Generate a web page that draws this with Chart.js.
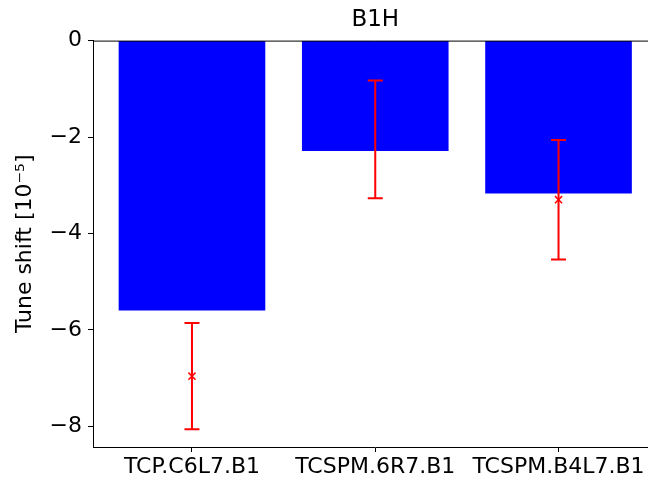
<!DOCTYPE html>
<html lang="en">
<head>
  <meta charset="UTF-8" />
  <title>B1H tune shift</title>
  <script src="https://cdn.jsdelivr.net/npm/chart.js"></script>
  <style>
    html, body { margin: 0; padding: 0; background: #fff; overflow: hidden; }
    #wrap { width: 664px; height: 481px; }
  </style>
</head>
<body>
  <div id="wrap"><canvas id="tuneChart" width="664" height="481"></canvas></div>
  <script>
    // collimators and tune shifts (units of 1e-5)
    const categories = ['TCP.C6L7.B1', 'TCSPM.6R7.B1', 'TCSPM.B4L7.B1'];
    const simulated = [-5.60, -2.29, -3.17];
    const measured = [-6.96, -2.05, -3.30];
    const measuredErr = [1.10, 1.22, 1.24];
    const yTicks = [0, -2, -4, -6, -8];

    const FONT = { family: 'DejaVu Sans', size: 22 };
    const minus = v => String(v).replace('-', '\u2212');

    // red whiskers with caps around the measured points, plus the top spine
    const errorBars = {
      id: 'errorBars',
      afterDatasetsDraw(chart) {
        const { ctx, scales: { x, y }, chartArea } = chart;
        ctx.save();
        ctx.strokeStyle = '#ff0000';
        ctx.lineWidth = 2;
        measured.forEach((m, i) => {
          const px = x.getPixelForValue(i);
          const top = y.getPixelForValue(m + measuredErr[i]);
          const bot = y.getPixelForValue(m - measuredErr[i]);
          ctx.beginPath();
          ctx.moveTo(px, top); ctx.lineTo(px, bot);
          ctx.moveTo(px - 7.5, top); ctx.lineTo(px + 7.5, top);
          ctx.moveTo(px - 7.5, bot); ctx.lineTo(px + 7.5, bot);
          ctx.stroke();
        });
        ctx.strokeStyle = '#000';
        ctx.lineWidth = 1;
        ctx.beginPath();
        ctx.moveTo(chartArea.left, chartArea.top + 0.5);
        ctx.lineTo(chartArea.right, chartArea.top + 0.5);
        ctx.stroke();
        ctx.restore();
      }
    };

    new Chart(document.getElementById('tuneChart'), {
      type: 'bar',
      data: {
        datasets: [{
          type: 'bar',
          data: simulated.map((v, i) => ({ x: i, y: v })),
          backgroundColor: '#0000ff',
          borderWidth: 0,
          barPercentage: 0.8,
          categoryPercentage: 1.0
        }, {
          type: 'scatter',
          data: measured.map((v, i) => ({ x: i, y: v })),
          pointStyle: 'crossRot',
          pointRadius: 5,
          borderColor: '#ff0000',
          borderWidth: 1.5
        }]
      },
      options: {
        responsive: false,
        animation: false,
        layout: { padding: 0 },
        plugins: {
          legend: { display: false },
          tooltip: { enabled: false },
          title: {
            display: true,
            text: 'B1H',
            color: '#000',
            font: { family: 'DejaVu Sans', size: 23, weight: 'normal' },
            fullSize: false,
            padding: { top: 6, bottom: 7 }
          }
        },
        scales: {
          x: {
            type: 'linear',
            min: -0.54,
            max: 2.54,
            offset: false,
            afterBuildTicks: s => { s.ticks = categories.map((c, i) => ({ value: i })); },
            afterFit: s => { s.height = 34; s.paddingLeft = 0; s.paddingRight = 0; },
            ticks: {
              color: '#000',
              font: FONT,
              padding: 2,
              maxRotation: 0,
              autoSkip: false,
              callback: v => categories[v]
            },
            grid: { offset: false, drawOnChartArea: false, drawTicks: true, tickLength: 5, color: '#000' },
            border: { color: '#000', width: 1 }
          },
          y: {
            min: -8.43,
            max: 0,
            afterBuildTicks: s => { s.ticks = yTicks.map(v => ({ value: v })); },
            afterFit: s => { s.width = 93; },
            ticks: {
              color: '#000',
              font: FONT,
              padding: 6,
              callback: v => minus(v)
            },
            grid: { drawOnChartArea: false, drawTicks: true, tickLength: 5, color: '#000' },
            border: { color: '#000', width: 1 },
            title: {
              display: true,
              text: 'Tune shift [10\u207b\u2075]',
              color: '#000',
              font: FONT,
              padding: { top: 12, bottom: 0 }
            }
          }
        }
      },
      plugins: [errorBars]
    });
  </script>
</body>
</html>
